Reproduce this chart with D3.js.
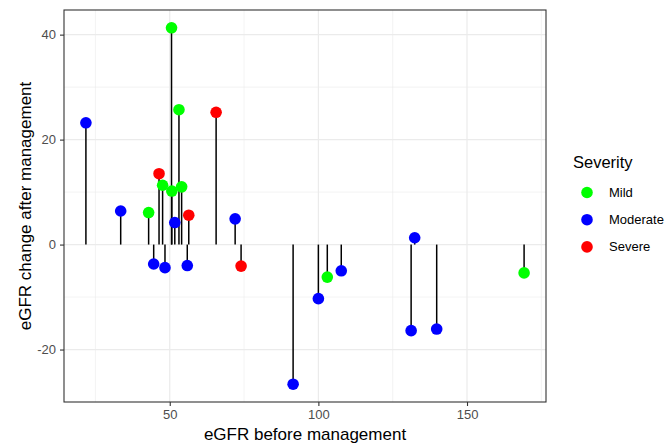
<!DOCTYPE html>
<html>
<head>
<meta charset="utf-8">
<script src="https://cdn.jsdelivr.net/npm/d3@7"></script>
<style>
  body { margin: 0; background: #fff; }
  text { font-family: "Liberation Sans", Arial, sans-serif; }
</style>
</head>
<body>
<div id="chart"></div>
<script>
// data
const before = [21.8, 33.5, 42.9, 44.6, 46.4, 47.6, 48.4, 50.6, 50.7, 51.7, 53.1, 54.0, 55.9, 56.4,
                65.6, 72.0, 74.0, 91.5, 100.0, 103.0, 107.7, 132.4, 131.2, 139.8, 169.2]
const change = [23.2, 6.4, 6.1, -3.7, 13.5, 11.3, -4.4, 41.3, 10.2, 4.2, 25.7, 11.0, -4.0, 5.6,
                25.2, 4.9, -4.1, -26.6, -10.3, -6.2, -5.0, 1.3, -16.4, -16.1, -5.4]
const severity = ["Moderate", "Moderate", "Mild", "Moderate", "Severe", "Mild", "Moderate", "Mild", "Mild", "Moderate",
                  "Mild", "Mild", "Moderate", "Severe", "Severe", "Moderate", "Severe", "Moderate", "Moderate", "Mild",
                  "Moderate", "Moderate", "Moderate", "Moderate", "Mild"]
const levels = ["Mild", "Moderate", "Severe"]
const levelColors = ["#00ff00", "#0000ff", "#ff0000"]
const xTicks = [50, 100, 150]
const yTicks = [-20, 0, 20, 40]

const data = before.map((b, i) => ({x: b, y: change[i], s: severity[i]}))

// dimensions
const width = 671, height = 447
const margin = {top: 10, right: 125, bottom: 45, left: 64}
const panelW = width - margin.left - margin.right
const panelH = height - margin.top - margin.bottom

const svg = d3.select("#chart").append("svg")
    .attr("width", width)
    .attr("height", height)

const bounds = svg.append("g")
    .attr("transform", `translate(${margin.left},${margin.top})`)

// scales (ggplot style 5% expansion)
const xExt = d3.extent(before), yExt = d3.extent(change)
const xPad = (xExt[1] - xExt[0]) * 0.05, yPad = (yExt[1] - yExt[0]) * 0.05
const xScale = d3.scaleLinear().domain([xExt[0] - xPad, xExt[1] + xPad]).range([0, panelW])
const yScale = d3.scaleLinear().domain([yExt[0] - yPad, yExt[1] + yPad]).range([panelH, 0])
const color = d3.scaleOrdinal().domain(levels).range(levelColors)

// grid
const xMinor = [25, 75, 125, 175].filter(v => v > xScale.domain()[0] && v < xScale.domain()[1])
const yMinor = [-30, -10, 10, 30].filter(v => v > yScale.domain()[0] && v < yScale.domain()[1])

bounds.selectAll(".xminor").data(xMinor).enter().append("line")
    .attr("x1", xScale).attr("x2", xScale).attr("y1", 0).attr("y2", panelH)
    .attr("stroke", "#ebebeb").attr("stroke-width", 0.6)
bounds.selectAll(".yminor").data(yMinor).enter().append("line")
    .attr("y1", yScale).attr("y2", yScale).attr("x1", 0).attr("x2", panelW)
    .attr("stroke", "#ebebeb").attr("stroke-width", 0.6)
bounds.selectAll(".xmajor").data(xTicks).enter().append("line")
    .attr("x1", xScale).attr("x2", xScale).attr("y1", 0).attr("y2", panelH)
    .attr("stroke", "#ebebeb").attr("stroke-width", 1.2)
bounds.selectAll(".ymajor").data(yTicks).enter().append("line")
    .attr("y1", yScale).attr("y2", yScale).attr("x1", 0).attr("x2", panelW)
    .attr("stroke", "#ebebeb").attr("stroke-width", 1.2)

// stems
bounds.selectAll(".stem").data(data).enter().append("line")
    .attr("x1", d => xScale(d.x)).attr("x2", d => xScale(d.x))
    .attr("y1", yScale(0)).attr("y2", d => yScale(d.y))
    .attr("stroke", "#000").attr("stroke-width", 1.5)

// points
bounds.selectAll(".pt").data(data).enter().append("circle")
    .attr("cx", d => xScale(d.x)).attr("cy", d => yScale(d.y))
    .attr("r", 5.8)
    .attr("fill", d => color(d.s))

// border
bounds.append("rect")
    .attr("width", panelW).attr("height", panelH)
    .attr("fill", "none").attr("stroke", "#333").attr("stroke-width", 1.1)

// axes
const xAxis = bounds.append("g")
    .attr("transform", `translate(0,${panelH})`)
    .call(d3.axisBottom(xScale).tickValues(xTicks).tickSize(4).tickPadding(4).tickFormat(d => String(d)))
const yAxis = bounds.append("g")
    .call(d3.axisLeft(yScale).tickValues(yTicks).tickSize(4).tickPadding(4).tickFormat(d => String(d)))
;[xAxis, yAxis].forEach(a => {
  a.select(".domain").remove()
  a.selectAll(".tick line").attr("stroke", "#333").attr("stroke-width", 1.1)
  a.selectAll(".tick text").attr("fill", "#4d4d4d").style("font-size", "13px")
})

svg.append("text")
    .attr("x", margin.left + panelW / 2).attr("y", 440)
    .attr("text-anchor", "middle").style("font-size", "17px").attr("fill", "#000")
    .text("eGFR before management")

svg.append("text")
    .attr("transform", `translate(31,${margin.top + panelH / 2}) rotate(-90)`)
    .attr("text-anchor", "middle").style("font-size", "17px").attr("fill", "#000")
    .text("eGFR change after management")

// legend
const legend = svg.append("g").attr("transform", "translate(573,0)")
legend.append("text")
    .attr("x", 0).attr("y", 168)
    .style("font-size", "16.5px").text("Severity")
const keys = legend.selectAll(".key").data(levels).enter().append("g")
    .attr("transform", (d, i) => `translate(0,${192.5 + i * 27.2})`)
keys.append("circle").attr("cx", 14).attr("r", 5.8).attr("fill", d => color(d))
keys.append("text").attr("x", 36).attr("dy", "0.35em")
    .style("font-size", "13px").text(d => d)
</script>
</body>
</html>
